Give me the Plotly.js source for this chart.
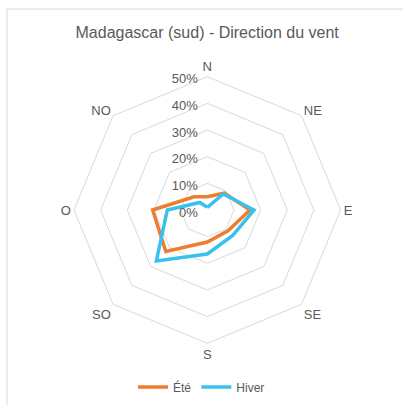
<!DOCTYPE html>
<html>
<head>
<meta charset="utf-8">
<script src="https://cdn.plot.ly/plotly-3.0.1.min.js"></script>
<style>html,body{margin:0;padding:0;background:#fff;}#chart{width:403px;height:405px;}</style>
</head>
<body>
<div id="chart"></div>
<script>
const directions = ["N", "NE", "E", "SE", "S", "SO", "O", "NO"];
const ete = [5, 9, 16, 11, 12, 22, 20.5, 7];
const hiver = [1, 8.5, 17.5, 13.5, 16.5, 27, 15, 4];
const radialTicks = [0, 10, 20, 30, 40, 50];
const radialTickLabels = ["0%", "10%", "20%", "30%", "40%", "50%"];

const closed = arr => arr.concat([arr[0]]);
const FONT = "Liberation Sans, Arial, sans-serif";
const GREY = "#595959";

const traces = [
  {type: "scatterpolar", mode: "lines", name: "Été", r: closed(ete), theta: closed(directions),
   line: {color: "#ED7D31", width: 3.5}},
  {type: "scatterpolar", mode: "lines", name: "Hiver", r: closed(hiver), theta: closed(directions),
   line: {color: "#38C1EE", width: 3.5}}
];

const layout = {
  width: 403, height: 405,
  margin: {l: 0, r: 0, t: 0, b: 0},
  paper_bgcolor: "#fff",
  font: {family: FONT, color: GREY, size: 12},
  title: {text: "Madagascar (sud) - Direction du vent", x: 0.514, xanchor: "center",
          y: 1 - 32/405, yanchor: "middle", font: {family: FONT, size: 16, color: GREY}},
  showlegend: true,
  legend: {orientation: "h", x: 0.5, xanchor: "center", y: 18/405, yanchor: "middle",
           font: {family: FONT, size: 12, color: GREY}},
  polar: {
    domain: {x: [74/403, 340.6/403], y: [61.7/405, 328.3/405]},
    gridshape: "linear",
    bgcolor: "rgba(0,0,0,0)",
    radialaxis: {range: [0, 50], tickvals: radialTicks, ticktext: radialTickLabels,
                 angle: 90, side: "counterclockwise", showline: false, ticks: "",
                 gridcolor: "#d9d9d9", gridwidth: 1, tickfont: {size: 13, color: GREY}},
    angularaxis: {type: "category", categoryarray: directions, rotation: 90, direction: "clockwise",
                  showgrid: false, showline: true, linecolor: "#d9d9d9", linewidth: 1, ticks: "",
                  tickfont: {size: 13, color: GREY}}
  },
  shapes: [{type: "rect", xref: "paper", yref: "paper", x0: 7/403, x1: 1.05, y0: -0.05, y1: 1 - 9/405,
            line: {color: "#d9d9d9", width: 1}}]
};

Plotly.newPlot("chart", traces, layout, {displayModeBar: false, staticPlot: true});
</script>
</body>
</html>
